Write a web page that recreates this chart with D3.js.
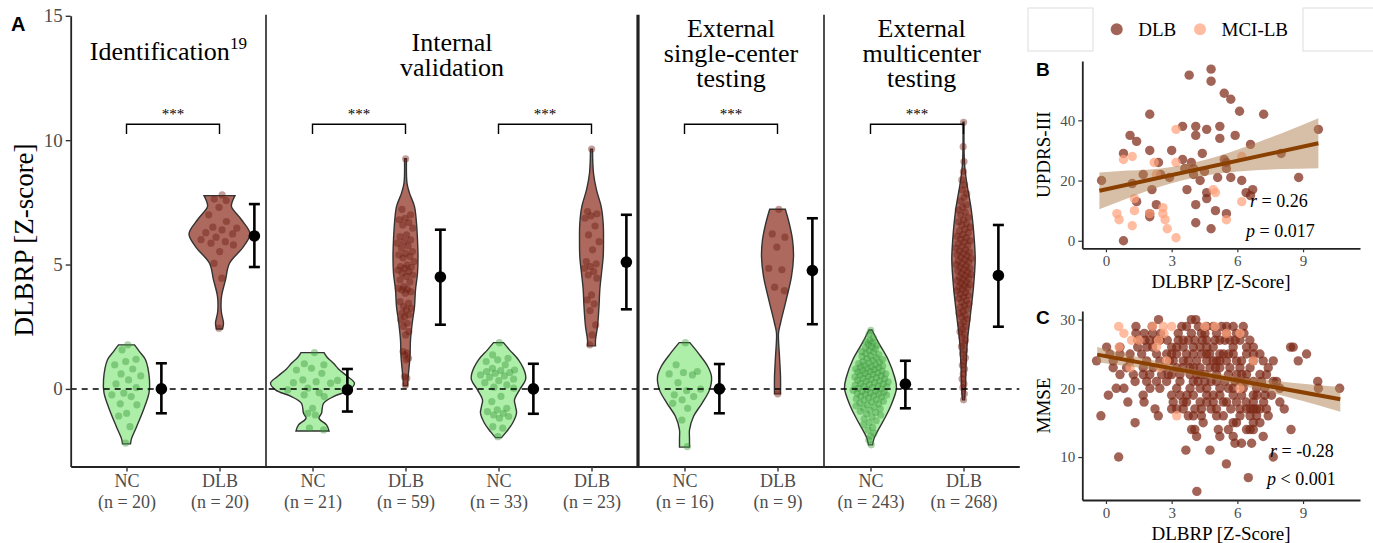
<!DOCTYPE html>
<html>
<head>
<meta charset="utf-8">
<script src="https://cdn.jsdelivr.net/npm/d3@7"></script>
<style>
  body { margin: 0; background: #fff; }
  svg text { font-family: "Liberation Serif", "Times New Roman", serif; }
  .tag { font-family: "Liberation Sans", Arial, sans-serif; font-weight: bold; }
</style>
</head>
<body>
<svg id="fig" width="1373" height="543"></svg>
<script>
// ---------- panel A data ----------
var catLabels = ["NC", "DLB", "NC", "DLB", "NC", "DLB", "NC", "DLB", "NC", "DLB"];
var catN = [20, 20, 21, 59, 33, 23, 16, 9, 243, 268];
var facetTitles = [["Identification"], ["Internal", "validation"],
                   ["External", "single-center", "testing"], ["External", "multicenter", "testing"]];
var facetEdges = [0.4, 2.5, 6.5, 8.5, 10.6];
var sigPairs = [[1, 2], [3, 4], [5, 6], [7, 8], [9, 10]];

// violin outlines: [value, density]
var vioNC1 = [[-2.21,4],[-2.0,5],[-1.53,10],[-0.84,17],[-0.16,22.5],[0.36,23],[1.17,19],[1.5,13],[1.77,8]];
var vioDLB1 = [[2.41,3],[2.64,4],[3.1,1.8],[3.71,2],[4.38,6],[5.05,10],[5.72,24],[6.23,30.5],[6.8,22],[7.33,12],[7.55,13],[7.77,15.5]];
var vioNC2 = [[-1.69,16.5],[-1.45,14],[-1.18,6.5],[-0.98,9],[-0.58,11],[-0.31,21],[-0.04,37],[0.23,42],[0.5,35],[0.8,26],[1.03,21],[1.25,15],[1.46,11.5]];
var vioDLB2 = [[0.12,2],[0.63,3],[1.3,4.5],[1.97,5],[2.64,6.7],[3.31,9],[3.98,10],[4.65,12],[5.32,12.5],[6.0,12],[6.66,11],[7.33,9],[7.87,4],[8.27,1.5],[9.25,1]];
var vioNC3 = [[-1.96,3],[-1.72,8],[-1.38,14],[-0.98,18],[-0.7,17],[-0.44,16],[-0.04,21],[0.36,27],[0.63,26.7],[1.17,20],[1.57,11],[1.86,5]];
var vioDLB3 = [[1.73,4],[1.97,4],[2.51,6],[3.31,7.5],[3.98,8.3],[4.65,10],[5.32,11.7],[6.0,12],[6.66,11.7],[7.33,9.7],[8.0,5],[8.67,2],[9.64,1]];
var vioNC4 = [[-2.34,5],[-2.0,5],[-1.65,5],[-1.11,9],[-0.58,17.5],[-0.04,25],[0.49,27],[0.9,23.3],[1.43,14],[1.86,5.3]];
var vioDLB4 = [[-0.2,3],[0.49,3],[1.3,2],[2.24,1],[2.64,3],[3.58,8.7],[4.52,14],[5.32,16],[6.0,15],[6.66,11.7],[7.22,7.8]];
var vioNC5 = [[-2.25,2],[-2.0,3.5],[-1.78,6],[-1.25,13.3],[-0.71,20],[0.03,26],[0.49,24],[1.17,17.7],[1.84,8.3],[2.37,1.5]];
var vioDLB5 = [[-0.44,1],[0.09,2],[0.9,2.5],[1.97,4],[2.91,6.7],[4.11,10],[5.19,11.7],[5.99,10.8],[7.2,7.8],[8.27,3.3],[9.07,1],[10.72,0.5]];

// individual scores
var ptsNC1 = [1.77,1.57,1.19,1.10,0.97,0.8,0.60,0.52,0.36,0.20,0.05,-0.17,-0.24,-0.31,-0.60,-0.64,-0.98,-1.09,-1.52,-2.18];
var ptsDLB1 = [7.80,7.63,7.57,7.30,7.0,6.73,6.5,6.46,6.39,6.28,6.23,6.10,6.0,5.92,5.86,5.79,5.52,5.05,4.45,2.44];
var ptsNC2 = [1.46,1.01,0.97,0.83,0.76,0.63,0.36,0.34,0.29,0.25,0.23,0.03,-0.04,-0.15,-0.24,-0.31,-0.78,-0.98,-1.05,-1.58,-1.65];
var ptsDLB2 = [9.25,7.22,7.0,6.86,6.80,6.69,6.59,6.46,6.19,6.12,5.99,5.92,5.86,5.75,5.66,5.52,5.45,5.39,5.32,5.26,5.12,4.99,4.92,4.89,
  4.85,4.78,4.72,4.65,4.58,4.52,4.38,4.3,4.11,4.05,4.01,3.98,3.91,3.85,3.51,3.45,3.31,3.24,3.18,3.04,2.98,2.91,2.77,2.64,2.51,
  2.30,2.17,1.50,1.44,1.37,1.23,1.17,0.49,0.43,0.16];
var ptsNC3 = [1.86,1.37,1.23,1.17,1.10,0.97,0.83,0.76,0.74,0.70,0.66,0.63,0.56,0.52,0.47,0.39,0.33,0.25,0.16,0.07,0.03,
  -0.3,-0.51,-0.78,-0.84,-0.91,-0.98,-1.05,-1.11,-1.18,-1.52,-1.58,-1.92];
var ptsDLB3 = [9.64,7.13,7.04,6.96,6.86,6.55,6.19,5.92,5.59,5.12,5.03,4.92,4.85,4.72,4.58,4.45,3.78,3.58,3.42,3.15,2.57,2.17,1.77];
var ptsNC4 = [1.86,0.97,0.70,0.66,0.60,0.56,0.25,-0.01,-0.07,-0.24,-0.31,-0.44,-0.58,-0.78,-1.25,-2.32];
var ptsDLB4 = [7.22,6.23,6.10,5.70,4.85,4.79,4.09,3.95,-0.2];
var ptsNC5 = [2.35,2.2,2.05,1.95,1.9,1.85,1.8,1.75,1.7,1.65,1.6,1.55,1.5,1.48,1.42,1.38,1.33,1.3,1.25,1.22,1.18,1.15,1.1,1.08,
  1.05,1.02,0.98,0.95,0.92,0.9,0.88,0.85,0.82,0.8,0.78,0.75,0.72,0.7,0.68,0.65,0.62,0.6,0.58,0.55,0.52,0.5,0.48,0.45,0.42,0.4,
  0.38,0.35,0.32,0.3,0.28,0.25,0.22,0.2,0.18,0.15,0.12,0.1,0.08,0.05,0.02,0.0,-0.02,-0.05,-0.08,-0.1,-0.12,-0.15,-0.18,-0.2,
  -0.22,-0.25,-0.28,-0.3,-0.33,-0.36,-0.4,-0.43,-0.46,-0.5,-0.53,-0.57,-0.6,-0.64,-0.68,-0.72,-0.76,-0.8,-0.85,-0.9,-0.95,
  -1.0,-1.05,-1.12,-1.2,-1.28,-1.36,-1.45,-1.55,-1.65,-1.78,-1.9,-2.05,-2.25];
var ptsDLB5 = [10.72,9.74,9.14,8.74,8.4,8.2,8.0,7.85,7.7,7.55,7.4,7.3,7.2,7.1,7.0,6.9,6.8,6.72,6.65,6.58,6.5,6.42,6.35,6.28,
  6.2,6.14,6.08,6.02,5.96,5.9,5.84,5.78,5.72,5.66,5.6,5.55,5.5,5.45,5.4,5.35,5.3,5.25,5.2,5.15,5.1,5.05,5.0,4.95,4.9,4.85,
  4.8,4.75,4.7,4.65,4.6,4.55,4.5,4.45,4.4,4.35,4.3,4.25,4.2,4.15,4.1,4.05,4.0,3.94,3.88,3.82,3.76,3.7,3.63,3.56,3.49,3.42,
  3.35,3.28,3.2,3.12,3.04,2.96,2.88,2.8,2.7,2.6,2.5,2.4,2.3,2.2,2.08,1.95,1.82,1.7,1.55,1.4,1.25,1.1,0.95,0.8,0.6,0.4,0.2,
  0.05,-0.2,-0.44];

// mean with error bars
var errMean = [0, 6.15, -0.04, 4.5, 0, 5.1, 0, 4.76, 0.19, 4.56];
var errLo = [-0.98, 4.9, -0.91, 2.58, -1.0, 3.2, -0.98, 2.6, -0.78, 2.5];
var errHi = [1.03, 7.43, 0.8, 6.4, 1.01, 7.0, 1.0, 6.86, 1.13, 6.59];

// ---------- panel B data (DLBRP, UPDRS-III) ----------
var updrsDLB = [[-0.2,20],[0.8,0],[0.8,29],[1.1,35],[1.4,33],[1.2,19],[1.7,22],[1.4,13],[2.0,42],[2.0,30],[2.1,17],[2.0,8],
  [2.0,9],[2.4,26],[2.5,22],[2.3,12],[2.9,21],[3.0,30],[3.5,38],[3.5,27],[3.6,24],[3.7,17],[3.8,55],[3.9,26],[4.0,24],
  [4.1,38],[4.1,35],[4.0,22],[4.3,20],[4.1,12],[4.1,6],[4.4,29],[4.5,23],[4.6,16],[4.6,14],[4.6,37],[4.8,53],[4.8,57],
  [4.8,4],[5.0,10],[5.1,21],[5.2,38],[5.2,34],[5.4,49],[5.4,27],[5.5,26],[5.5,24],[5.5,9],[5.7,47],[5.7,21],[5.9,35],
  [6.1,43],[6.2,20],[6.4,16],[6.6,32],[6.6,15],[6.7,17],[7.2,42],[8.0,29],[8.8,21],[9.7,37]];
var updrsMCI = [[0.5,9],[0.6,7],[0.8,27],[1.2,28],[1.2,5],[1.3,10],[1.3,14],[2.0,9],[2.2,26],[2.3,22],[2.6,11],[2.6,9],
  [2.7,7],[2.8,4],[3.2,1],[3.2,37],[3.2,26],[4.9,17],[5.0,16],[5.5,7],[6.2,13],[6.2,28]];
var updrsFit = [[-0.3,16.6],[9.7,32.4]];
var updrsBand = [[-0.3,10.5,22.7],[1,14.1,23.3],[2,16.9,23.7],[3,19.1,24.5],[4,20.9,25.9],[5,22.2,27.8],
  [6,23.0,30.2],[7,23.5,32.9],[8,23.8,35.6],[9.7,24.1,40.7]];

// ---------- panel C data (DLBRP, MMSE) ----------
var mmseDLBRows = [
  [30, [2.4,3.9,4.1]],
  [29, [1.37,2.11,3.46,3.68,4.22,4.6,4.9,5.28,5.51,5.81,6.27]],
  [28, [1.37,1.75,2.13,2.5,3.3,3.9,4.36,4.52,5.05,5.5,5.96,6.3]],
  [27, [1.45,1.78,2.0,2.31,2.46,2.8,3.3,3.53,3.76,4.06,4.4,4.6,4.98,5.2,5.43,5.66,5.9,6.12,6.57]],
  [26, [0.03,0.64,1.45,1.86,2.13,3.0,3.23,3.53,3.99,4.3,4.6,4.9,5.81,6.42,6.73,8.43,8.55]],
  [25, [0.18,0.64,1.1,1.63,2.31,2.77,3.0,3.23,3.68,3.99,4.36,4.6,4.74,5.2,5.36,5.6,5.81,6.42,6.73,7.03,9.16]],
  [24, [-0.43,0.33,1.1,1.86,2.46,2.9,3.07,3.53,3.76,4.14,4.6,4.9,5.05,5.2,5.5,5.96,6.19,6.73,7.18,7.64,8.78]],
  [23, [0.33,0.94,1.7,2.16,2.62,3.23,3.5,3.84,4.0,4.3,4.75,5.0,5.2,5.66,6.12,6.58,7.41]],
  [22, [0.64,1.25,1.7,2.0,2.54,2.85,3.0,3.38,3.84,4.14,4.3,4.52,5.05,5.59,5.96,6.2,6.42,7.03,7.33]],
  [21, [1.33,1.86,2.31,2.77,3.38,3.99,4.2,4.52,4.8,5.05,5.43,5.89,6.12,6.4,6.73,7.1,7.64,7.79,9.67]],
  [20, [0.47,0.82,2.01,2.46,3.23,3.84,4.3,4.6,5.2,5.59,5.81,6.27,6.88,7.26,7.94,9.7,10.67]],
  [19, [0.11,1.7,3.0,3.38,3.7,3.99,4.6,4.9,5.2,5.81,6.19,6.73,6.9,7.26,7.56]],
  [18, [1.0,1.74,3.07,3.53,3.68,4.3,4.6,4.9,5.36,5.51,5.96,6.4,6.73,7.2,7.94]],
  [17, [2.24,3.0,3.23,3.53,4.06,4.36,4.8,5.05,5.7,6.12,6.42,6.6,6.73,6.88,7.03,7.33,8.14]],
  [16, [-0.23,2.39,3.76,3.99,4.36,5.05,5.36,6.12,6.58,6.88,7.41]],
  [15, [1.33,4.44,5.81,5.96,6.73,7.03]],
  [14, [3.91,4.06,5.13,5.59,6.42,6.58,6.73,8.45]],
  [13, [4.14,5.2,5.81,7.18]],
  [12, [5.89,6.19,6.65]],
  [11, [3.65,4.75]],
  [10, [0.58,7.64]],
  [9, [5.5]],
  [7, [6.5]],
  [5, [4.15]]
];
var mmseMCI = [[0.58,29],[0.82,28],[1.17,27],[1.5,27],[0.6,26],[2.13,29],[2.62,29],[3.0,29],[2.65,28],[2.31,26],[2.4,27],
  [2.77,24],[1.1,23],[2.46,23],[3.23,16],[4.52,29],[4.98,29],[5.5,28],[6.12,28],[6.73,24],[6.12,20]];
var mmseFit = [[-0.4,24.9],[10.7,18.4]];
var mmseBand = [[-0.4,23.8,26.0],[1,23.2,24.9],[2,22.8,24.2],[3,22.35,23.45],[4,21.8,22.8],[5,21.2,22.2],
  [6,20.5,21.7],[7,19.85,21.35],[8,19.0,21.0],[9,18.15,20.65],[10.7,16.6,20.2]];

// ---------- colours ----------
var colNCfill = "#adeea8", colNCpt = "#3a973a";
var colDLBfill = "#ad695e", colDLBpt = "#6a1a0e";
var colDLB = "#7d2816", colMCI = "#ffa27c";
var colFit = "#8a4000", colBand = "#b08050";
var gray = "#4d4d4d";

var svg = d3.select("#fig");

// ================= PANEL A =================
var xA = d3.scaleLinear().domain([0.4, 10.6]).range([70.7, 1019.3]);
var yA = d3.scaleLinear().domain([-3.12, 15]).range([466.5, 15.8]);
var step = xA(2) - xA(1);
var wA = d3.scaleLinear().domain([0, 46.5]).range([0, step / 2]);

var vios = [vioNC1, vioDLB1, vioNC2, vioDLB2, vioNC3, vioDLB3, vioNC4, vioDLB4, vioNC5, vioDLB5];
var pts = [ptsNC1, ptsDLB1, ptsNC2, ptsDLB2, ptsNC3, ptsDLB3, ptsNC4, ptsDLB4, ptsNC5, ptsDLB5];

function densAt(prof, v) {
  if (v <= prof[0][0]) return prof[0][1];
  for (var k = 1; k < prof.length; k++) {
    if (v <= prof[k][0]) {
      var t = (v - prof[k-1][0]) / (prof[k][0] - prof[k-1][0]);
      return prof[k-1][1] + t * (prof[k][1] - prof[k-1][1]);
    }
  }
  return prof[prof.length-1][1];
}

var gA = svg.append("g");

vios.forEach(function(prof, i) {
  var cx = xA(i + 1);
  var isNC = catLabels[i] == "NC";
  var area = d3.area()
    .curve(d3.curveCatmullRom.alpha(0.5))
    .y(function(d) { return yA(d[0]); })
    .x0(function(d) { return cx - wA(d[1]); })
    .x1(function(d) { return cx + wA(d[1]); });
  gA.append("path")
    .attr("d", area(prof))
    .attr("fill", isNC ? colNCfill : colDLBfill)
    .attr("stroke", "#333")
    .attr("stroke-width", 1.4);

  // sina-like spread of points inside the violin
  gA.append("g").selectAll("circle")
    .data(pts[i]).enter()
    .append("circle")
    .attr("cx", function(d, j) {
      var u = (((j + 1) * 0.6180339887) % 1) * 2 - 1;
      return cx + u * wA(densAt(prof, d)) * 0.72;
    })
    .attr("cy", function(d) { return yA(d); })
    .attr("r", 3.6)
    .attr("fill", isNC ? colNCpt : colDLBpt)
    .attr("fill-opacity", 0.42);
});

// reference line at zero
gA.append("line")
  .attr("x1", xA(0.4)).attr("x2", xA(10.6))
  .attr("y1", yA(0)).attr("y2", yA(0))
  .attr("stroke", "#000").attr("stroke-width", 1.5)
  .attr("stroke-dasharray", "6,5");

// mean +- sd
var eb = gA.append("g");
errMean.forEach(function(m, i) {
  var ex = xA(i + 1 + 0.375);
  eb.append("line").attr("x1", ex).attr("x2", ex)
    .attr("y1", yA(errLo[i])).attr("y2", yA(errHi[i]))
    .attr("stroke", "#000").attr("stroke-width", 2.6);
  [errLo[i], errHi[i]].forEach(function(v) {
    eb.append("line").attr("x1", ex - 5.5).attr("x2", ex + 5.5)
      .attr("y1", yA(v)).attr("y2", yA(v))
      .attr("stroke", "#000").attr("stroke-width", 2.6);
  });
  eb.append("circle").attr("cx", ex).attr("cy", yA(m)).attr("r", 5.8).attr("fill", "#000");
});

// significance brackets
sigPairs.forEach(function(p) {
  var x1 = xA(p[0]), x2 = xA(p[1]);
  gA.append("path")
    .attr("d", "M" + x1 + "," + yA(10.25) + "V" + yA(10.64) + "H" + x2 + "V" + yA(10.25))
    .attr("fill", "none").attr("stroke", "#000").attr("stroke-width", 1.4);
  gA.append("text")
    .attr("x", (x1 + x2) / 2).attr("y", yA(10.64) - 5)
    .attr("text-anchor", "middle").attr("font-size", 15)
    .text("***");
});

// facet dividers
[[2.5, 1.6], [6.5, 3.2], [8.5, 1.6]].forEach(function(d) {
  gA.append("line")
    .attr("x1", xA(d[0])).attr("x2", xA(d[0]))
    .attr("y1", yA(15) - 1).attr("y2", yA(-3.12))
    .attr("stroke", "#222").attr("stroke-width", d[1]);
});

// facet titles
var firstBase = {1: 60, 2: 51, 3: 37};
facetTitles.forEach(function(lines, i) {
  var cx = xA((facetEdges[i] + facetEdges[i + 1]) / 2);
  var t = gA.append("text").attr("text-anchor", "middle").attr("font-size", 26).attr("fill", "#000");
  lines.forEach(function(l, k) {
    t.append("tspan").attr("x", cx).attr("y", firstBase[lines.length] + k * 25).text(l);
  });
  if (i == 0) {
    t.append("tspan").attr("font-size", 17).attr("dy", -11.5).text("19");
  }
});

// axes
var axL = gA.append("g")
  .attr("transform", "translate(" + xA(0.4) + ",0)")
  .call(d3.axisLeft(yA).tickValues([0, 5, 10, 15]).tickSize(5).tickSizeOuter(0).tickPadding(3));
axL.select(".domain").attr("stroke", "#222").attr("stroke-width", 1.8);
axL.selectAll(".tick line").attr("stroke", "#333").attr("stroke-width", 1.4);
axL.selectAll(".tick text").attr("font-size", 19).attr("fill", gray)
  .attr("font-family", "Liberation Serif, serif");

var axB = gA.append("g")
  .attr("transform", "translate(0," + yA(-3.12) + ")")
  .call(d3.axisBottom(xA).tickValues(d3.range(1, 11)).tickSize(5).tickSizeOuter(0));
axB.select(".domain").attr("stroke", "#222").attr("stroke-width", 1.8);
axB.selectAll(".tick line").attr("stroke", "#333").attr("stroke-width", 1.4);
axB.selectAll(".tick text").each(function(d) {
  var t = d3.select(this);
  t.text(null).attr("dy", null).attr("y", null)
    .attr("font-size", 18).attr("fill", gray).attr("font-family", "Liberation Serif, serif");
  t.append("tspan").attr("x", 0).attr("y", 20).text(catLabels[d - 1]);
  t.append("tspan").attr("x", 0).attr("y", 41).text("(n = " + catN[d - 1] + ")");
});

gA.append("text")
  .attr("transform", "translate(33,240) rotate(-90)")
  .attr("text-anchor", "middle").attr("font-size", 27)
  .text("DLBRP [Z-score]");
gA.append("text").attr("class", "tag").attr("x", 11).attr("y", 31).attr("font-size", 20).text("A");

// ================= PANELS B / C =================
function scatterPanel(opt) {
  var g = svg.append("g");
  var x = d3.scaleLinear().domain([-1.08, 11.6]).range([1082.3, 1360]);
  var y = d3.scaleLinear().domain(opt.ydom).range(opt.yrange);

  g.append("g").selectAll("circle").data(opt.dlb).enter().append("circle")
    .attr("cx", function(d) { return x(d[0]); })
    .attr("cy", function(d) { return y(d[1]); })
    .attr("r", 4.7).attr("fill", colDLB).attr("fill-opacity", 0.72);
  g.append("g").selectAll("circle").data(opt.mci).enter().append("circle")
    .attr("cx", function(d) { return x(d[0]); })
    .attr("cy", function(d) { return y(d[1]); })
    .attr("r", 4.7).attr("fill", colMCI).attr("fill-opacity", 0.72);

  g.append("path")
    .attr("d", d3.area().x(function(d) { return x(d[0]); })
      .y0(function(d) { return y(d[1]); }).y1(function(d) { return y(d[2]); })
      .curve(d3.curveMonotoneX)(opt.band))
    .attr("fill", colBand).attr("fill-opacity", 0.5);
  g.append("path")
    .attr("d", d3.line().x(function(d) { return x(d[0]); }).y(function(d) { return y(d[1]); })(opt.fit))
    .attr("stroke", colFit).attr("stroke-width", 4).attr("fill", "none");

  var ax = g.append("g").attr("transform", "translate(" + x.range()[0] + ",0)")
    .call(d3.axisLeft(y).tickValues(opt.yticks).tickSize(4).tickSizeOuter(0).tickPadding(3));
  var bx = g.append("g").attr("transform", "translate(0," + opt.yrange[0] + ")")
    .call(d3.axisBottom(x).tickValues([0, 3, 6, 9]).tickSize(4).tickSizeOuter(0).tickPadding(3));
  [ax, bx].forEach(function(a) {
    a.select(".domain").attr("stroke", "#222").attr("stroke-width", 1.8);
    a.selectAll(".tick line").attr("stroke", "#333").attr("stroke-width", 1.2);
    a.selectAll(".tick text").attr("font-size", 15).attr("fill", gray)
      .attr("font-family", "Liberation Serif, serif");
  });

  g.append("text")
    .attr("transform", "translate(1050," + ((opt.yrange[0] + opt.yrange[1]) / 2) + ") rotate(-90)")
    .attr("text-anchor", "middle").attr("font-size", 19).text(opt.ytitle);
  g.append("text").attr("x", 1221).attr("y", opt.yrange[0] + 40)
    .attr("text-anchor", "middle").attr("font-size", 19).text("DLBRP [Z-Score]");
  g.append("text").attr("class", "tag").attr("x", 1036).attr("y", opt.tagY).attr("font-size", 19).text(opt.tag);

  var r = g.append("text").attr("x", opt.stat[0]).attr("y", opt.stat[1]).attr("font-size", 18);
  r.append("tspan").attr("font-style", "italic").text("r");
  r.append("tspan").text(" = " + opt.rtxt);
  var p = g.append("text").attr("x", opt.stat[2]).attr("y", opt.stat[3]).attr("font-size", 18);
  p.append("tspan").attr("font-style", "italic").text("p");
  p.append("tspan").text(" " + opt.ptxt);
}

var mmseDLB = [];
mmseDLBRows.forEach(function(row) {
  row[1].forEach(function(v) { mmseDLB.push([v, row[0]]); });
});

scatterPanel({
  dlb: updrsDLB, mci: updrsMCI, band: updrsBand, fit: updrsFit,
  ydom: [-2.5, 59.7], yrange: [248.3, 61], yticks: [0, 20, 40],
  ytitle: "UPDRS-III", tag: "B", tagY: 76,
  stat: [1250, 207, 1246, 237], rtxt: "0.26", ptxt: "= 0.017"
});
scatterPanel({
  dlb: mmseDLB, mci: mmseMCI, band: mmseBand, fit: mmseFit,
  ydom: [3.75, 31.25], yrange: [500, 311], yticks: [10, 20, 30],
  ytitle: "MMSE", tag: "C", tagY: 324,
  stat: [1270, 457, 1267, 485], rtxt: "-0.28", ptxt: "< 0.001"
});

// legend
var lg = svg.append("g");
lg.append("rect").attr("x", 1028).attr("y", 8).attr("width", 65).attr("height", 43)
  .attr("fill", "none").attr("stroke", "#ddd");
lg.append("rect").attr("x", 1303).attr("y", 8).attr("width", 80).attr("height", 43)
  .attr("fill", "none").attr("stroke", "#ddd");
var legItems = [["DLB", colDLB, 1116.7], ["MCI-LB", colMCI, 1200]];
legItems.forEach(function(d) {
  lg.append("circle").attr("cx", d[2]).attr("cy", 29.3).attr("r", 6)
    .attr("fill", d[1]).attr("fill-opacity", 0.72);
  lg.append("text").attr("x", d[2] + 21.5).attr("y", 36).attr("font-size", 19).text(d[0]);
});
</script>
</body>
</html>
